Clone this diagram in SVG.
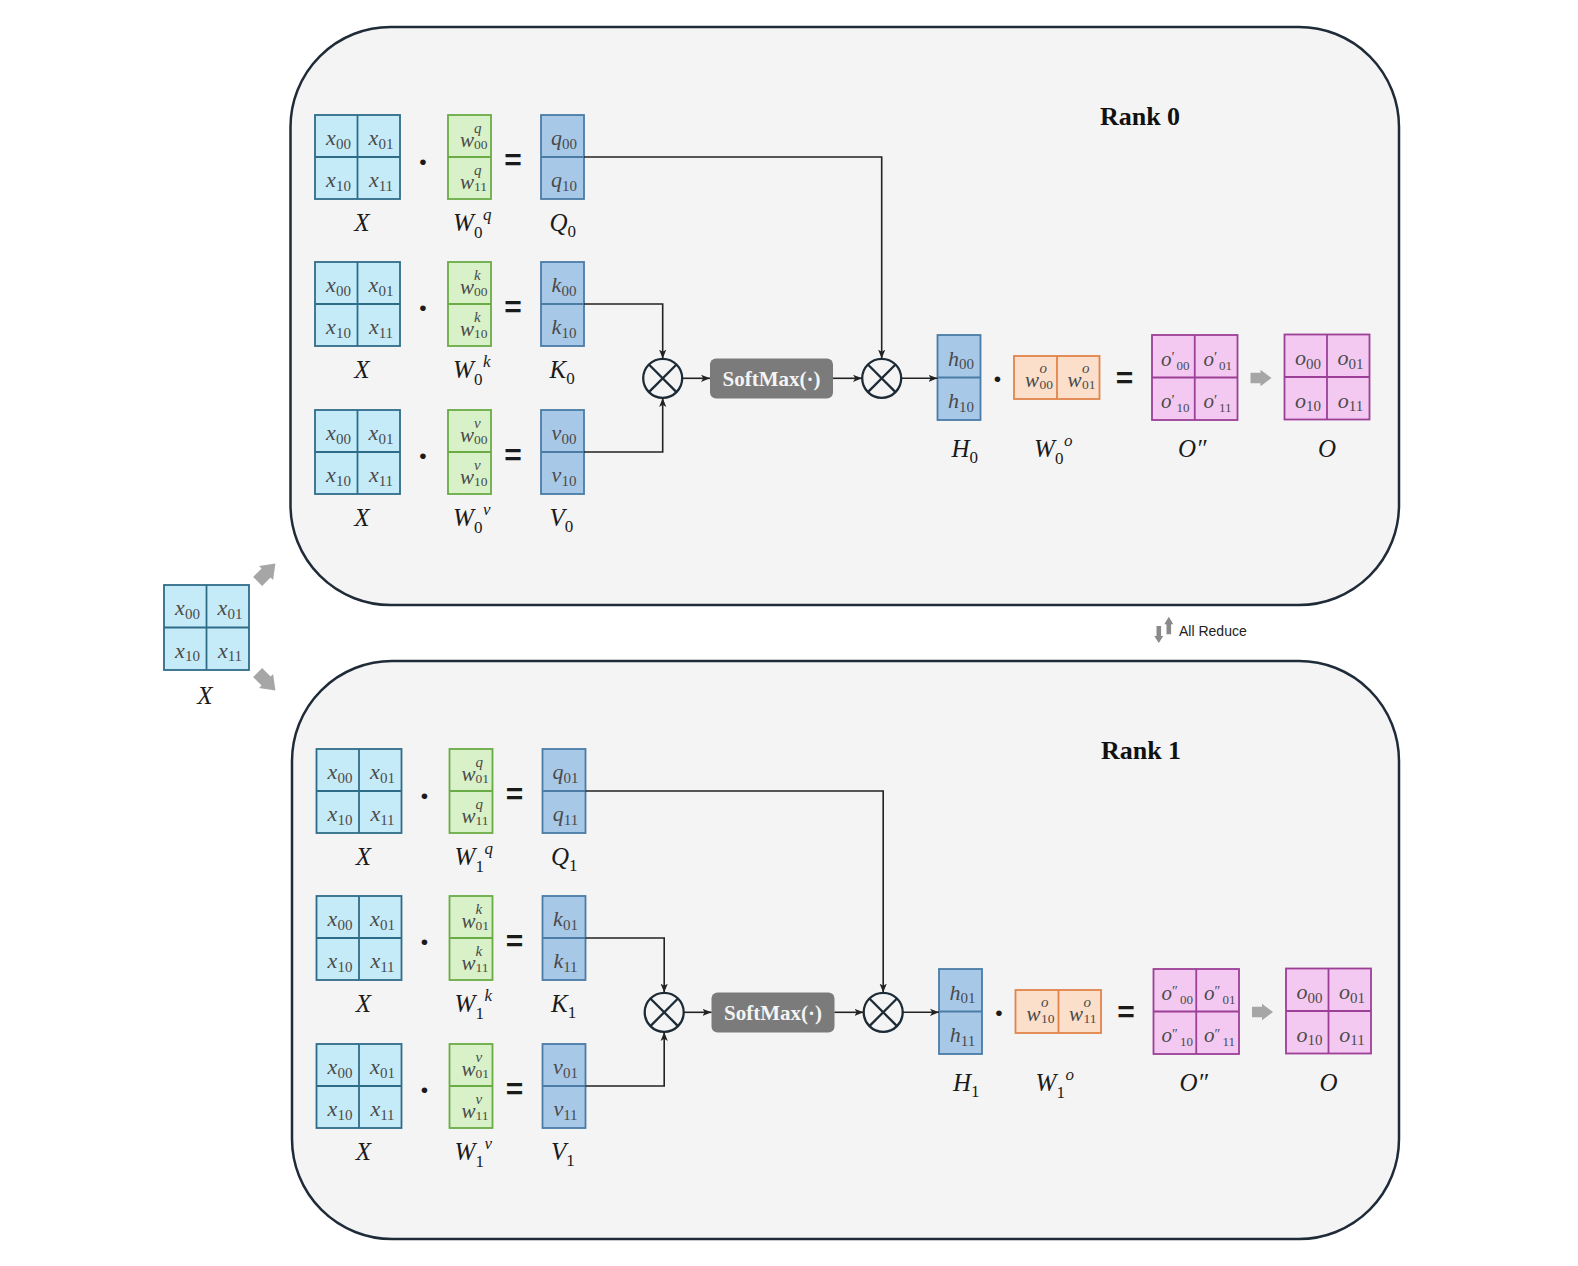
<svg xmlns="http://www.w3.org/2000/svg" width="1578" height="1266" viewBox="0 0 1578 1266">
<defs>
<style>
.rank{fill:#f4f4f4;stroke:#1f2b38;stroke-width:2.5}
.cx{fill:#c6ebf8;stroke:#2f6c88;stroke-width:1.8}
.cw{fill:#d8f1c8;stroke:#6aab45;stroke-width:1.8}
.cq{fill:#a8c8e8;stroke:#4a7ca6;stroke-width:1.8}
.co{fill:#fbdfca;stroke:#e2844a;stroke-width:1.8}
.cp{fill:#f4c9f1;stroke:#9c3f96;stroke-width:1.8}
.dx{stroke:#2f6c88;stroke-width:1.8}
.dw{stroke:#6aab45;stroke-width:1.8}
.dq{stroke:#4a7ca6;stroke-width:1.8}
.do{stroke:#e2844a;stroke-width:1.8}
.dp{stroke:#9c3f96;stroke-width:1.8}
.t{font-family:"Liberation Serif",serif;font-style:italic;font-size:22px;fill:#4a4a4a;text-anchor:middle}
.s{font-size:15px;font-style:normal}
.tw{font-family:"Liberation Serif",serif;font-style:italic;font-size:21px;fill:#4a4a4a}
.sc{font-style:normal;font-size:13.5px}
.sc2{font-style:normal;font-size:13px}
.sci{font-style:italic;font-size:15px}
.pr{font-style:normal;font-size:15px}
.pr2{font-style:normal;font-size:14px}
.lbl{font-family:"Liberation Serif",serif;font-style:italic;font-size:25px;fill:#1a1a1a}
.ls{font-style:normal;font-size:17px}
.lsi{font-style:italic;font-size:17px}
.eq{font-family:"Liberation Sans",sans-serif;font-weight:bold;font-size:30px;fill:#1a1a1a;text-anchor:middle}
.dot{font-family:"Liberation Sans",sans-serif;font-size:21px;fill:#1a1a1a;text-anchor:middle}
.conn{fill:none;stroke:#222;stroke-width:1.6}
.ring{fill:#f4f4f4;stroke:#1d2b36;stroke-width:2.3}
.cross{stroke:#1d2b36;stroke-width:2.3}
.sm{fill:#7b7b7b}
.smt{font-family:"Liberation Serif",serif;font-weight:bold;font-size:21px;fill:#f4f4f4;text-anchor:middle}
.gray{fill:#a6a6a6}
.rt{font-family:"Liberation Serif",serif;font-weight:bold;font-size:26px;fill:#111;text-anchor:middle}
</style>
<marker id="ah" viewBox="0 0 10 10" refX="10" refY="5" markerWidth="9" markerHeight="9" markerUnits="userSpaceOnUse" orient="auto">
<path d="M0,1 L10,5 L0,9 L2.5,5 Z" fill="#222"/>
</marker>
<path id="barrow" d="M-10.5,-5.3 H-0.5 V-8.3 L10.5,0 L-0.5,8.3 V5.3 H-10.5 Z"/>
</defs>

<rect width="1578" height="1266" fill="#ffffff"/>

<!-- Rank containers -->
<g id="rank0-box"><rect class="rank" x="290.5" y="27" width="1108.5" height="578" rx="100" ry="100"/>
<text class="rt" x="1140" y="125">Rank 0</text></g>
<g id="rank1-box"><rect class="rank" x="292" y="661" width="1107" height="578" rx="100" ry="100"/>
<text class="rt" x="1141" y="759">Rank 1</text></g>

<!-- Input X -->
<g id="input-x">
<rect class="cx" x="164" y="585" width="85" height="85"/>
<line class="dx" x1="206.5" y1="585" x2="206.5" y2="670"/>
<line class="dx" x1="164" y1="627.5" x2="249" y2="627.5"/>
<text class="t" x="187.5" y="615">x<tspan class="s" dy="3.5">00</tspan></text>
<text class="t" x="230" y="615">x<tspan class="s" dy="3.5">01</tspan></text>
<text class="t" x="187.5" y="657.5">x<tspan class="s" dy="3.5">10</tspan></text>
<text class="t" x="230" y="657.5">x<tspan class="s" dy="3.5">11</tspan></text>
<text class="lbl" x="205" y="704" text-anchor="middle">X</text>
</g>
<g id="split-arrows">
<use href="#barrow" class="gray" transform="translate(266.5,572.5) rotate(-45) scale(1.2)"/>
<use href="#barrow" class="gray" transform="translate(266.5,681.5) rotate(45) scale(1.2)"/>
</g>

<!-- All reduce -->
<g id="all-reduce">
<path d="M-2.3,0 H2.3 V10 H4.5 L0,17 L-4.5,10 H-2.3 Z" fill="#8a8a8a" transform="translate(1158.8,626)"/>
<path d="M-2.3,0 H2.3 V-10 H4.5 L0,-17.5 L-4.5,-10 H-2.3 Z" fill="#8a8a8a" transform="translate(1168.8,634.3)"/>
<text x="1179" y="635.5" font-family="Liberation Sans, sans-serif" font-size="14" fill="#222">All Reduce</text>
</g>

<!-- ================= RANK 0 ================= -->
<g id="rank0">
<g id="r0-xq">
<rect class="cx" x="315" y="115" width="85" height="84"/>
<line class="dx" x1="357.5" y1="115" x2="357.5" y2="199"/><line class="dx" x1="315" y1="157" x2="400" y2="157"/>
<text class="t" x="338.5" y="145">x<tspan class="s" dy="3.5">00</tspan></text>
<text class="t" x="381" y="145">x<tspan class="s" dy="3.5">01</tspan></text>
<text class="t" x="338.5" y="187">x<tspan class="s" dy="3.5">10</tspan></text>
<text class="t" x="381" y="187">x<tspan class="s" dy="3.5">11</tspan></text>
<text class="lbl" x="362" y="231" text-anchor="middle">X</text>
</g>
<text class="dot" x="423" y="169">•</text>
<g id="r0-wq">
<rect class="cw" x="448" y="115" width="43" height="84"/>
<line class="dw" x1="448" y1="157" x2="491" y2="157"/>
<text class="tw" x="460" y="146.5">w<tspan class="sci" x="474" y="133">q</tspan><tspan class="sc" x="474" y="148.5">00</tspan></text>
<text class="tw" x="460" y="188.5">w<tspan class="sci" x="474" y="175">q</tspan><tspan class="sc" x="474" y="190.5">11</tspan></text>
<text class="lbl" x="453" y="231">W<tspan class="ls" x="474" y="238">0</tspan><tspan class="lsi" x="483" y="220">q</tspan></text>
</g>
<text class="eq" x="513" y="170">=</text>
<g id="r0-q">
<rect class="cq" x="541" y="115" width="43" height="84"/>
<line class="dq" x1="541" y1="157" x2="584" y2="157"/>
<text class="t" x="564" y="145">q<tspan class="s" dy="3.5">00</tspan></text>
<text class="t" x="564" y="187">q<tspan class="s" dy="3.5">10</tspan></text>
<text class="lbl" x="549.5" y="231">Q<tspan class="ls" dy="6">0</tspan></text>
</g>

<g id="r0-xk">
<rect class="cx" x="315" y="262" width="85" height="84"/>
<line class="dx" x1="357.5" y1="262" x2="357.5" y2="346"/><line class="dx" x1="315" y1="304" x2="400" y2="304"/>
<text class="t" x="338.5" y="292">x<tspan class="s" dy="3.5">00</tspan></text>
<text class="t" x="381" y="292">x<tspan class="s" dy="3.5">01</tspan></text>
<text class="t" x="338.5" y="334">x<tspan class="s" dy="3.5">10</tspan></text>
<text class="t" x="381" y="334">x<tspan class="s" dy="3.5">11</tspan></text>
<text class="lbl" x="362" y="378" text-anchor="middle">X</text>
</g>
<text class="dot" x="423" y="315">•</text>
<g id="r0-wk">
<rect class="cw" x="448" y="262" width="43" height="84"/>
<line class="dw" x1="448" y1="304" x2="491" y2="304"/>
<text class="tw" x="460" y="293.5">w<tspan class="sci" x="474" y="280">k</tspan><tspan class="sc" x="474" y="295.5">00</tspan></text>
<text class="tw" x="460" y="335.5">w<tspan class="sci" x="474" y="322">k</tspan><tspan class="sc" x="474" y="337.5">10</tspan></text>
<text class="lbl" x="453" y="378">W<tspan class="ls" x="474" y="385">0</tspan><tspan class="lsi" x="483" y="367">k</tspan></text>
</g>
<text class="eq" x="513" y="317">=</text>
<g id="r0-k">
<rect class="cq" x="541" y="262" width="43" height="84"/>
<line class="dq" x1="541" y1="304" x2="584" y2="304"/>
<text class="t" x="564" y="292">k<tspan class="s" dy="3.5">00</tspan></text>
<text class="t" x="564" y="334">k<tspan class="s" dy="3.5">10</tspan></text>
<text class="lbl" x="549.5" y="378">K<tspan class="ls" dy="6">0</tspan></text>
</g>

<g id="r0-xv">
<rect class="cx" x="315" y="410" width="85" height="84"/>
<line class="dx" x1="357.5" y1="410" x2="357.5" y2="494"/><line class="dx" x1="315" y1="452" x2="400" y2="452"/>
<text class="t" x="338.5" y="440">x<tspan class="s" dy="3.5">00</tspan></text>
<text class="t" x="381" y="440">x<tspan class="s" dy="3.5">01</tspan></text>
<text class="t" x="338.5" y="482">x<tspan class="s" dy="3.5">10</tspan></text>
<text class="t" x="381" y="482">x<tspan class="s" dy="3.5">11</tspan></text>
<text class="lbl" x="362" y="526" text-anchor="middle">X</text>
</g>
<text class="dot" x="423" y="463">•</text>
<g id="r0-wv">
<rect class="cw" x="448" y="410" width="43" height="84"/>
<line class="dw" x1="448" y1="452" x2="491" y2="452"/>
<text class="tw" x="460" y="441.5">w<tspan class="sci" x="474" y="428">v</tspan><tspan class="sc" x="474" y="443.5">00</tspan></text>
<text class="tw" x="460" y="483.5">w<tspan class="sci" x="474" y="470">v</tspan><tspan class="sc" x="474" y="485.5">10</tspan></text>
<text class="lbl" x="453" y="526">W<tspan class="ls" x="474" y="533">0</tspan><tspan class="lsi" x="483" y="515">v</tspan></text>
</g>
<text class="eq" x="513" y="465">=</text>
<g id="r0-v">
<rect class="cq" x="541" y="410" width="43" height="84"/>
<line class="dq" x1="541" y1="452" x2="584" y2="452"/>
<text class="t" x="564" y="440">v<tspan class="s" dy="3.5">00</tspan></text>
<text class="t" x="564" y="482">v<tspan class="s" dy="3.5">10</tspan></text>
<text class="lbl" x="549.5" y="526">V<tspan class="ls" dy="6">0</tspan></text>
</g>

<g id="r0-mul1"><circle class="ring" cx="662.7" cy="378.3" r="19.5"/>
<line class="cross" x1="648.9" y1="364.5" x2="676.5" y2="392.1"/><line class="cross" x1="676.5" y1="364.5" x2="648.9" y2="392.1"/></g>
<g id="r0-softmax"><rect class="sm" x="710" y="358.5" width="123" height="40" rx="6"/>
<text class="smt" x="771.5" y="386">SoftMax(·)</text></g>
<g id="r0-mul2"><circle class="ring" cx="881.7" cy="378.3" r="19.5"/>
<line class="cross" x1="867.9" y1="364.5" x2="895.5" y2="392.1"/><line class="cross" x1="895.5" y1="364.5" x2="867.9" y2="392.1"/></g>

<g id="r0-h">
<rect class="cq" x="937.5" y="335" width="43" height="85"/>
<line class="dq" x1="937.5" y1="377.5" x2="980.5" y2="377.5"/>
<text class="t" x="961" y="365.5">h<tspan class="s" dy="3.5">00</tspan></text>
<text class="t" x="961" y="408">h<tspan class="s" dy="3.5">10</tspan></text>
<text class="lbl" x="951.5" y="457">H<tspan class="ls" dy="6">0</tspan></text>
</g>
<text class="dot" x="997.5" y="386">•</text>
<g id="r0-wo">
<rect class="co" x="1014" y="356" width="85.5" height="43"/>
<line class="do" x1="1057" y1="356" x2="1057" y2="399"/>
<text class="tw" x="1025" y="387">w<tspan class="sci" x="1039.5" y="373">o</tspan><tspan class="sc" x="1039.5" y="389">00</tspan></text>
<text class="tw" x="1067.5" y="387">w<tspan class="sci" x="1082" y="373">o</tspan><tspan class="sc" x="1082" y="389">01</tspan></text>
<text class="lbl" x="1034" y="457">W<tspan class="ls" x="1055" y="464">0</tspan><tspan class="lsi" x="1064" y="446">o</tspan></text>
</g>
<text class="eq" x="1124.5" y="388">=</text>
<g id="r0-opp">
<rect class="cp" x="1152" y="335" width="85.5" height="85"/>
<line class="dp" x1="1194.75" y1="335" x2="1194.75" y2="420"/><line class="dp" x1="1152" y1="377.5" x2="1237.5" y2="377.5"/>
<text class="tw" x="1161" y="365.5">o<tspan class="pr" x="1171.5" y="362">′</tspan><tspan class="sc2" x="1176.5" y="369.5">00</tspan></text>
<text class="tw" x="1203.5" y="365.5">o<tspan class="pr" x="1214" y="362">′</tspan><tspan class="sc2" x="1219" y="369.5">01</tspan></text>
<text class="tw" x="1161" y="408">o<tspan class="pr" x="1171.5" y="404.5">′</tspan><tspan class="sc2" x="1176.5" y="412">10</tspan></text>
<text class="tw" x="1203.5" y="408">o<tspan class="pr" x="1214" y="404.5">′</tspan><tspan class="sc2" x="1219" y="412">11</tspan></text>
<text class="lbl" x="1178" y="457">O″</text>
</g>
<use href="#barrow" class="gray" transform="translate(1261,378)"/>
<g id="r0-o">
<rect class="cp" x="1284.5" y="334.5" width="85" height="85"/>
<line class="dp" x1="1327" y1="334.5" x2="1327" y2="419.5"/><line class="dp" x1="1284.5" y1="377" x2="1369.5" y2="377"/>
<text class="t" x="1308" y="365">o<tspan class="s" dy="3.5">00</tspan></text>
<text class="t" x="1350.5" y="365">o<tspan class="s" dy="3.5">01</tspan></text>
<text class="t" x="1308" y="407.5">o<tspan class="s" dy="3.5">10</tspan></text>
<text class="t" x="1350.5" y="407.5">o<tspan class="s" dy="3.5">11</tspan></text>
<text class="lbl" x="1327" y="457" text-anchor="middle">O</text>
</g>
</g>

<!-- ================= RANK 1 ================= -->
<g id="rank1" transform="translate(1.5,634)">
<g id="r1-xq">
<rect class="cx" x="315" y="115" width="85" height="84"/>
<line class="dx" x1="357.5" y1="115" x2="357.5" y2="199"/><line class="dx" x1="315" y1="157" x2="400" y2="157"/>
<text class="t" x="338.5" y="145">x<tspan class="s" dy="3.5">00</tspan></text>
<text class="t" x="381" y="145">x<tspan class="s" dy="3.5">01</tspan></text>
<text class="t" x="338.5" y="187">x<tspan class="s" dy="3.5">10</tspan></text>
<text class="t" x="381" y="187">x<tspan class="s" dy="3.5">11</tspan></text>
<text class="lbl" x="362" y="231" text-anchor="middle">X</text>
</g>
<text class="dot" x="423" y="169">•</text>
<g id="r1-wq">
<rect class="cw" x="448" y="115" width="43" height="84"/>
<line class="dw" x1="448" y1="157" x2="491" y2="157"/>
<text class="tw" x="460" y="146.5">w<tspan class="sci" x="474" y="133">q</tspan><tspan class="sc" x="474" y="148.5">01</tspan></text>
<text class="tw" x="460" y="188.5">w<tspan class="sci" x="474" y="175">q</tspan><tspan class="sc" x="474" y="190.5">11</tspan></text>
<text class="lbl" x="453" y="231">W<tspan class="ls" x="474" y="238">1</tspan><tspan class="lsi" x="483" y="220">q</tspan></text>
</g>
<text class="eq" x="513" y="170">=</text>
<g id="r1-q">
<rect class="cq" x="541" y="115" width="43" height="84"/>
<line class="dq" x1="541" y1="157" x2="584" y2="157"/>
<text class="t" x="564" y="145">q<tspan class="s" dy="3.5">01</tspan></text>
<text class="t" x="564" y="187">q<tspan class="s" dy="3.5">11</tspan></text>
<text class="lbl" x="549.5" y="231">Q<tspan class="ls" dy="6">1</tspan></text>
</g>

<g id="r1-xk">
<rect class="cx" x="315" y="262" width="85" height="84"/>
<line class="dx" x1="357.5" y1="262" x2="357.5" y2="346"/><line class="dx" x1="315" y1="304" x2="400" y2="304"/>
<text class="t" x="338.5" y="292">x<tspan class="s" dy="3.5">00</tspan></text>
<text class="t" x="381" y="292">x<tspan class="s" dy="3.5">01</tspan></text>
<text class="t" x="338.5" y="334">x<tspan class="s" dy="3.5">10</tspan></text>
<text class="t" x="381" y="334">x<tspan class="s" dy="3.5">11</tspan></text>
<text class="lbl" x="362" y="378" text-anchor="middle">X</text>
</g>
<text class="dot" x="423" y="315">•</text>
<g id="r1-wk">
<rect class="cw" x="448" y="262" width="43" height="84"/>
<line class="dw" x1="448" y1="304" x2="491" y2="304"/>
<text class="tw" x="460" y="293.5">w<tspan class="sci" x="474" y="280">k</tspan><tspan class="sc" x="474" y="295.5">01</tspan></text>
<text class="tw" x="460" y="335.5">w<tspan class="sci" x="474" y="322">k</tspan><tspan class="sc" x="474" y="337.5">11</tspan></text>
<text class="lbl" x="453" y="378">W<tspan class="ls" x="474" y="385">1</tspan><tspan class="lsi" x="483" y="367">k</tspan></text>
</g>
<text class="eq" x="513" y="317">=</text>
<g id="r1-k">
<rect class="cq" x="541" y="262" width="43" height="84"/>
<line class="dq" x1="541" y1="304" x2="584" y2="304"/>
<text class="t" x="564" y="292">k<tspan class="s" dy="3.5">01</tspan></text>
<text class="t" x="564" y="334">k<tspan class="s" dy="3.5">11</tspan></text>
<text class="lbl" x="549.5" y="378">K<tspan class="ls" dy="6">1</tspan></text>
</g>

<g id="r1-xv">
<rect class="cx" x="315" y="410" width="85" height="84"/>
<line class="dx" x1="357.5" y1="410" x2="357.5" y2="494"/><line class="dx" x1="315" y1="452" x2="400" y2="452"/>
<text class="t" x="338.5" y="440">x<tspan class="s" dy="3.5">00</tspan></text>
<text class="t" x="381" y="440">x<tspan class="s" dy="3.5">01</tspan></text>
<text class="t" x="338.5" y="482">x<tspan class="s" dy="3.5">10</tspan></text>
<text class="t" x="381" y="482">x<tspan class="s" dy="3.5">11</tspan></text>
<text class="lbl" x="362" y="526" text-anchor="middle">X</text>
</g>
<text class="dot" x="423" y="463">•</text>
<g id="r1-wv">
<rect class="cw" x="448" y="410" width="43" height="84"/>
<line class="dw" x1="448" y1="452" x2="491" y2="452"/>
<text class="tw" x="460" y="441.5">w<tspan class="sci" x="474" y="428">v</tspan><tspan class="sc" x="474" y="443.5">01</tspan></text>
<text class="tw" x="460" y="483.5">w<tspan class="sci" x="474" y="470">v</tspan><tspan class="sc" x="474" y="485.5">11</tspan></text>
<text class="lbl" x="453" y="526">W<tspan class="ls" x="474" y="533">1</tspan><tspan class="lsi" x="483" y="515">v</tspan></text>
</g>
<text class="eq" x="513" y="465">=</text>
<g id="r1-v">
<rect class="cq" x="541" y="410" width="43" height="84"/>
<line class="dq" x1="541" y1="452" x2="584" y2="452"/>
<text class="t" x="564" y="440">v<tspan class="s" dy="3.5">01</tspan></text>
<text class="t" x="564" y="482">v<tspan class="s" dy="3.5">11</tspan></text>
<text class="lbl" x="549.5" y="526">V<tspan class="ls" dy="6">1</tspan></text>
</g>

<g id="r1-mul1"><circle class="ring" cx="662.7" cy="378.3" r="19.5"/>
<line class="cross" x1="648.9" y1="364.5" x2="676.5" y2="392.1"/><line class="cross" x1="676.5" y1="364.5" x2="648.9" y2="392.1"/></g>
<g id="r1-softmax"><rect class="sm" x="710" y="358.5" width="123" height="40" rx="6"/>
<text class="smt" x="771.5" y="386">SoftMax(·)</text></g>
<g id="r1-mul2"><circle class="ring" cx="881.7" cy="378.3" r="19.5"/>
<line class="cross" x1="867.9" y1="364.5" x2="895.5" y2="392.1"/><line class="cross" x1="895.5" y1="364.5" x2="867.9" y2="392.1"/></g>

<g id="r1-h">
<rect class="cq" x="937.5" y="335" width="43" height="85"/>
<line class="dq" x1="937.5" y1="377.5" x2="980.5" y2="377.5"/>
<text class="t" x="961" y="365.5">h<tspan class="s" dy="3.5">01</tspan></text>
<text class="t" x="961" y="408">h<tspan class="s" dy="3.5">11</tspan></text>
<text class="lbl" x="951.5" y="457">H<tspan class="ls" dy="6">1</tspan></text>
</g>
<text class="dot" x="997.5" y="386">•</text>
<g id="r1-wo">
<rect class="co" x="1014" y="356" width="85.5" height="43"/>
<line class="do" x1="1057" y1="356" x2="1057" y2="399"/>
<text class="tw" x="1025" y="387">w<tspan class="sci" x="1039.5" y="373">o</tspan><tspan class="sc" x="1039.5" y="389">10</tspan></text>
<text class="tw" x="1067.5" y="387">w<tspan class="sci" x="1082" y="373">o</tspan><tspan class="sc" x="1082" y="389">11</tspan></text>
<text class="lbl" x="1034" y="457">W<tspan class="ls" x="1055" y="464">1</tspan><tspan class="lsi" x="1064" y="446">o</tspan></text>
</g>
<text class="eq" x="1124.5" y="388">=</text>
<g id="r1-opp">
<rect class="cp" x="1152" y="335" width="85.5" height="85"/>
<line class="dp" x1="1194.75" y1="335" x2="1194.75" y2="420"/><line class="dp" x1="1152" y1="377.5" x2="1237.5" y2="377.5"/>
<text class="tw" x="1160" y="365.5">o<tspan class="pr2" x="1170.5" y="362">″</tspan><tspan class="sc2" x="1178.5" y="369.5">00</tspan></text>
<text class="tw" x="1202.5" y="365.5">o<tspan class="pr2" x="1213" y="362">″</tspan><tspan class="sc2" x="1221" y="369.5">01</tspan></text>
<text class="tw" x="1160" y="408">o<tspan class="pr2" x="1170.5" y="404.5">″</tspan><tspan class="sc2" x="1178.5" y="412">10</tspan></text>
<text class="tw" x="1202.5" y="408">o<tspan class="pr2" x="1213" y="404.5">″</tspan><tspan class="sc2" x="1221" y="412">11</tspan></text>
<text class="lbl" x="1178" y="457">O″</text>
</g>
<use href="#barrow" class="gray" transform="translate(1261,378)"/>
<g id="r1-o">
<rect class="cp" x="1284.5" y="334.5" width="85" height="85"/>
<line class="dp" x1="1327" y1="334.5" x2="1327" y2="419.5"/><line class="dp" x1="1284.5" y1="377" x2="1369.5" y2="377"/>
<text class="t" x="1308" y="365">o<tspan class="s" dy="3.5">00</tspan></text>
<text class="t" x="1350.5" y="365">o<tspan class="s" dy="3.5">01</tspan></text>
<text class="t" x="1308" y="407.5">o<tspan class="s" dy="3.5">10</tspan></text>
<text class="t" x="1350.5" y="407.5">o<tspan class="s" dy="3.5">11</tspan></text>
<text class="lbl" x="1327" y="457" text-anchor="middle">O</text>
</g>
</g>

<!-- ================= CONNECTORS ================= -->
<g id="connectors">
<g id="conn-rank0">
<path class="conn" d="M584,157 H881.7 V358.6" marker-end="url(#ah)"/>
<path class="conn" d="M584,304 H662.7 V358.6" marker-end="url(#ah)"/>
<path class="conn" d="M584,452 H662.7 V398" marker-end="url(#ah)"/>
<path class="conn" d="M682.3,378.3 H710" marker-end="url(#ah)"/>
<path class="conn" d="M833,378.3 H862" marker-end="url(#ah)"/>
<path class="conn" d="M901.3,378.3 H937.5" marker-end="url(#ah)"/>
</g>
<g id="conn-rank1" transform="translate(1.5,634)">
<path class="conn" d="M584,157 H881.7 V358.6" marker-end="url(#ah)"/>
<path class="conn" d="M584,304 H662.7 V358.6" marker-end="url(#ah)"/>
<path class="conn" d="M584,452 H662.7 V398" marker-end="url(#ah)"/>
<path class="conn" d="M682.3,378.3 H710" marker-end="url(#ah)"/>
<path class="conn" d="M833,378.3 H862" marker-end="url(#ah)"/>
<path class="conn" d="M901.3,378.3 H937.5" marker-end="url(#ah)"/>
</g>
</g>
</svg>
